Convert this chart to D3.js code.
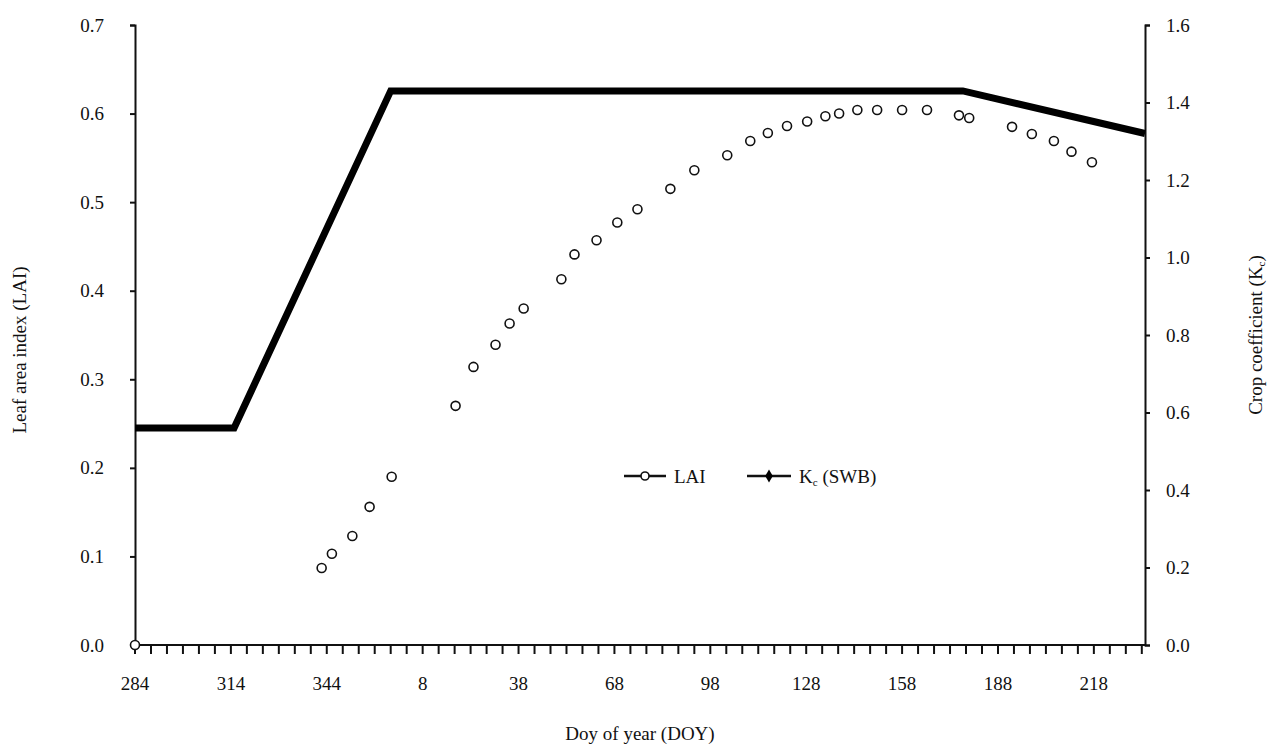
<!DOCTYPE html>
<html><head><meta charset="utf-8">
<script src="https://cdn.jsdelivr.net/npm/d3@7"></script>
<style>body{margin:0;background:#fff}text{font-family:"Liberation Serif",serif;fill:#111}</style>
</head><body><div id="chart"></div>
<script>
// continuous day counter (days past 366 wrap to next year)
const laiDay = [284,342.4,345.6,352,357.4,364.3,384.3,389.9,396.8,401.2,405.6,417.4,421.5,428.4,434.9,441.2,451.5,459,469.3,476.5,482,488,494.3,500,504.3,510,516.2,524,531.8,541.8,545,558.4,564.6,571.5,577,583.4];
const laiVal = [0,0.087,0.103,0.123,0.156,0.190,0.270,0.314,0.339,0.363,0.380,0.413,0.441,0.457,0.477,0.492,0.515,0.536,0.553,0.569,0.578,0.586,0.591,0.597,0.600,0.604,0.604,0.604,0.604,0.598,0.595,0.585,0.577,0.569,0.557,0.545];
const kcDay = [284,315,364,543,600];
const kcVal = [0.56,0.56,1.43,1.43,1.32];
const xTicks = [284,314,344,374,404,434,464,494,524,554,584];
const leftTicks = [0,0.1,0.2,0.3,0.4,0.5,0.6,0.7];
const rightTicks = [0,0.2,0.4,0.6,0.8,1.0,1.2,1.4,1.6];

const w = 1271, h = 747;
const m = {l:135, r:126, t:25, b:102};
const svg = d3.select("#chart").append("svg").attr("width", w).attr("height", h);

const x = d3.scaleLinear().domain([284, 600]).range([m.l, w - m.r]);
const yL = d3.scaleLinear().domain([0, 0.7]).range([h - m.b, m.t]);
const yR = d3.scaleLinear().domain([0, 1.6]).range([h - m.b, m.t]);

// x axis with minor ticks every 5 days
const minor = d3.range(284, 601, 5);
const xg = svg.append("g").attr("transform", "translate(0," + (h - m.b) + ")");
xg.append("line").attr("x1", m.l).attr("x2", w - m.r).attr("stroke", "#111").attr("stroke-width", 2);
xg.selectAll(".mt").data(minor).enter().append("line")
  .attr("x1", d => x(d)).attr("x2", d => x(d)).attr("y1", 0).attr("y2", 9)
  .attr("stroke", "#111").attr("stroke-width", 2);
xg.selectAll(".lb").data(xTicks).enter().append("text")
  .attr("x", d => x(d)).attr("y", 45).attr("text-anchor", "middle").attr("font-size", 19)
  .text(d => d > 366 ? d - 366 : d);

const fmt = d3.format(".1f");
const lg = svg.append("g").attr("transform", "translate(" + m.l + ",0)")
  .call(d3.axisLeft(yL).tickValues(leftTicks).tickFormat(fmt).tickSize(5).tickPadding(34));
const rg = svg.append("g").attr("transform", "translate(" + (w - m.r) + ",0)")
  .call(d3.axisRight(yR).tickValues(rightTicks).tickFormat(fmt).tickSize(5).tickPadding(30));
[lg, rg].forEach(g => {
  g.select(".domain").attr("stroke", "#111").attr("stroke-width", 2);
  g.selectAll(".tick line").attr("stroke", "#111").attr("stroke-width", 2);
  g.selectAll("text").attr("font-size", 19).style("font-family", '"Liberation Serif",serif').style("fill", "#111");
});
rg.selectAll("text").attr("text-anchor", "start").attr("dx", -14);
lg.selectAll("text").attr("dx", 8);

// Kc line
svg.append("path").datum(kcDay.map((d, i) => [d, kcVal[i]]))
  .attr("fill", "none").attr("stroke", "#000").attr("stroke-width", 7)
  .attr("d", d3.line().x(d => x(d[0])).y(d => yR(d[1])));

// LAI points
svg.selectAll(".lai").data(laiDay.map((d, i) => [d, laiVal[i]])).enter().append("circle")
  .attr("cx", d => x(d[0])).attr("cy", d => yL(d[1])).attr("r", 4.5)
  .attr("fill", "#fff").attr("stroke", "#111").attr("stroke-width", 1.6);

// axis titles
svg.append("text").attr("x", (m.l + w - m.r) / 2).attr("y", 740).attr("text-anchor", "middle")
  .attr("font-size", 19).text("Doy of year (DOY)");
svg.append("text").attr("transform", "translate(26," + ((m.t + h - m.b) / 2 + 15) + ") rotate(-90)")
  .attr("text-anchor", "middle").attr("font-size", 19).text("Leaf area index (LAI)");
const rt = svg.append("text").attr("transform", "translate(1262," + ((m.t + h - m.b) / 2) + ") rotate(-90)")
  .attr("text-anchor", "middle").attr("font-size", 19);
rt.append("tspan").text("Crop coefficient (K");
rt.append("tspan").attr("font-size", 11).attr("dy", 3).text("c");
rt.append("tspan").attr("dy", -3).text(")");

// legend
const leg = svg.append("g").attr("transform", "translate(624,476)");
leg.append("line").attr("x1", 0).attr("x2", 42).attr("stroke", "#111").attr("stroke-width", 2.5);
leg.append("circle").attr("cx", 21).attr("r", 4).attr("fill", "#fff").attr("stroke", "#111").attr("stroke-width", 1.6);
leg.append("text").attr("x", 50).attr("y", 7).attr("font-size", 19).text("LAI");
leg.append("line").attr("x1", 123).attr("x2", 167).attr("stroke", "#111").attr("stroke-width", 2.5);
leg.append("path").attr("d", d3.symbol(d3.symbolDiamond, 50)).attr("transform", "translate(145,0)").attr("fill", "#000");
const kt = leg.append("text").attr("x", 175).attr("y", 7).attr("font-size", 19);
kt.append("tspan").text("K");
kt.append("tspan").attr("font-size", 11).attr("dy", 3).text("c");
kt.append("tspan").attr("dy", -3).text(" (SWB)");
</script></body></html>
